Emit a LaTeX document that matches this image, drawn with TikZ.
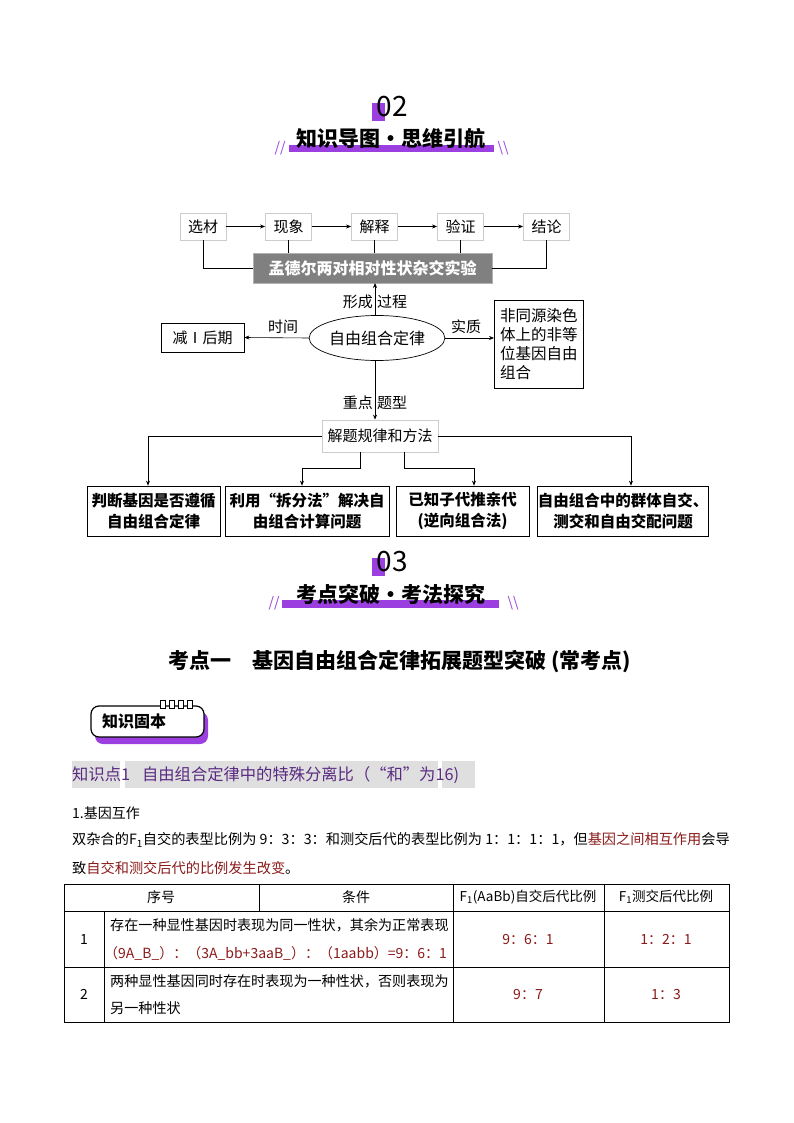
\documentclass[tikz,border=0pt]{standalone}
\usepackage{fontspec}
\setmainfont{Noto Sans CJK SC}
\usetikzlibrary{arrows.meta,shapes.geometric}
\definecolor{pur}{HTML}{9B3FE0}
\definecolor{dred}{HTML}{8B1A1A}
\definecolor{kpur}{HTML}{5A2A82}
\begin{document}
\begin{tikzpicture}[x=1pt,y=-1pt,
  fs/.style={font=\fontsize{#1}{#1}\selectfont},
  tbox/.style={draw=gray!40,line width=0.8pt,minimum width=46,minimum height=27,inner sep=0,fs=15},
  bbox/.style={draw,line width=0.7pt,inner sep=0,fs=15},
  qbox/.style={draw,line width=0.7pt,minimum height=50,inner sep=0,align=center,font=\bfseries\fontsize{15.5}{21}\selectfont},
  arr/.style={-{Stealth[length=5pt,width=4pt]},line width=0.6pt},
  ln/.style={line width=0.6pt}]
\useasboundingbox (0,0) rectangle (794,1123);
\fill[white] (0,0) rectangle (794,1123);
% section 02 header
\fill[pur] (372,103) rectangle (385,121);
\node[fs=28] (n02) at (392,107) {02};
\fill[pur] (289,145) rectangle (494,152);
\node[font=\bfseries\fontsize{21}{24}\selectfont] (h1) at (391,139) {知识导图·思维引航};
\node[pur,fs=14] (s1) at (280,148) {//};
\node[pur,fs=14] (s2) at (503,148) {\textbackslash\textbackslash};
% top row
\node[tbox] (a1) at (203,226.5) {选材};
\node[tbox] (a2) at (288.5,226.5) {现象};
\node[tbox] (a3) at (374.5,226.5) {解释};
\node[tbox] (a4) at (460.5,226.5) {验证};
\node[tbox] (a5) at (546.5,226.5) {结论};
\draw[arr] (a1) -- (a2); \draw[arr] (a2) -- (a3); \draw[arr] (a3) -- (a4); \draw[arr] (a4) -- (a5);
\node[fill=gray!75!black!80,draw=gray!60,text=white,minimum width=239,minimum height=30,inner sep=0,font=\bfseries\fontsize{16}{18}\selectfont] (bn) at (372.5,268) {孟德尔两对相对性状杂交实验};
\draw[ln] (a1.south) |- (bn.west);
\draw[ln] (a5.south) |- (bn.east);
\draw[ln] (a2.south) -- (a2.south |- bn.north);
\draw[ln] (a3.south) -- (a3.south |- bn.north);
\draw[ln] (a4.south) -- (a4.south |- bn.north);
% center ellipse
\node[ellipse,draw,line width=0.7pt,minimum width=119,minimum height=45,inner sep=0,fs=16] (el) at (377,338) {自由组合定律};
\coordinate (eltop) at (375,316);
\coordinate (bnbot) at (375,283);
\draw[arr] (eltop) -- (bnbot);
\node[fs=15,anchor=east,inner sep=1] (l1) at (374,302) {形成};
\node[fs=15,anchor=west,inner sep=1] (l2) at (376,302) {过程};
\node[bbox,minimum width=83,minimum height=29] (jq) at (202.5,337.5) {减Ⅰ后期};
\draw[arr] (el.west) -- (jq.east);
\node[fs=15] (l3) at (283,327) {时间};
\node[draw,line width=0.7pt,minimum width=89,minimum height=88,align=left,anchor=north west,inner xsep=4,inner ysep=3,font=\fontsize{15.5}{19}\selectfont] (rb) at (494,300) {非同源染色\\体上的非等\\位基因自由\\组合};
\draw[arr] (el.east) -- (rb.west |- el.east);
\node[fs=15] (l4) at (466,327) {实质};
% method box
\node[tbox,minimum width=116,minimum height=32] (mf) at (380,436) {解题规律和方法};
\coordinate (elbot) at (375,361);
\draw[arr] (elbot) -- (mf.north -| elbot);
\node[fs=15,anchor=east,inner sep=1] (l5) at (374,403) {重点};
\node[fs=15,anchor=west,inner sep=1] (l6) at (376,403) {题型};
% bottom boxes
\node[qbox,minimum width=133] (q1) at (153.5,511) {判断基因是否遵循\\自由组合定律};
\node[qbox,minimum width=164] (q2) at (307,511) {利用“拆分法”解决自\\由组合计算问题};
\node[qbox,minimum width=133] (q3) at (462.5,511) {已知子代推亲代\\(逆向组合法)};
\node[qbox,minimum width=170] (q4) at (623,511) {自由组合中的群体自交、\\测交和自由交配问题};
\draw[arr] (mf.west) -| (q1.north -| 148,0);
\draw[arr] (mf.east) -| (q4.north -| 631,0);
\draw[arr] (mf.south -| 360,0) |- (302,468) -- (q2.north -| 302,0);
\draw[arr] (mf.south -| 404,0) |- (474,468) -- (q3.north -| 474,0);
% section 03 header
\fill[pur] (372,558) rectangle (385,576);
\node[fs=28] (n03) at (392,562) {03};
\fill[pur] (282,600) rectangle (499,608);
\node[font=\bfseries\fontsize{21}{24}\selectfont] (h2) at (391,594) {考点突破·考法探究};
\node[pur,fs=14] (s3) at (274,603) {//};
\node[pur,fs=14] (s4) at (513,603) {\textbackslash\textbackslash};
\node[font=\bfseries\fontsize{21}{24}\selectfont] (tt) at (400,662) {考点一\quad 基因自由组合定律拓展题型突破 (常考点)};
% badge
\fill[pur,rounded corners=8] (95,712) rectangle (208,744);
\draw[line width=1.2pt,fill=white,rounded corners=8] (91,706) rectangle (204,737);
\foreach \i in {0,1,2,3} {\draw[line width=1pt,fill=white] (160+\i*9,700) rectangle (165+\i*9,708);}
\node[font=\bfseries\fontsize{16}{18}\selectfont] (bd) at (134,721) {知识固本};
% knowledge point line
\fill[gray!25] (72,761) rectangle (120,788);
\fill[gray!25] (125,761) rectangle (438,788);
\fill[gray!25] (442,761) rectangle (475,788);
\node[kpur,anchor=west,font=\fontsize{16.3}{17}\selectfont,inner sep=0] (kp) at (72,775) {知识点1\hspace{12pt}自由组合定律中的特殊分离比（“和”为16)};
% paragraph
\node[anchor=west,fs=14,inner sep=0] (p0) at (72,813) {1.基因互作};
\node[anchor=west,font=\fontsize{14.2}{15}\selectfont,inner sep=0] (p1) at (72,840) {双杂合的F\textsubscript{1}自交的表型比例为 9：3：3：和测交后代的表型比例为 1：1：1：1，但\textcolor{dred}{基因之间相互作用}会导};
\node[anchor=west,font=\fontsize{14.2}{15}\selectfont,inner sep=0] (p2) at (72,868) {致\textcolor{dred}{自交和测交后代的比例发生改变}。};
% table
\draw[line width=0.8pt] (64,884) rectangle (729,1022);
\draw[line width=0.6pt] (64,911) -- (729,911);
\draw[line width=0.6pt] (64,967) -- (729,967);
\draw[line width=0.6pt] (104,911) -- (104,1022);
\draw[line width=0.6pt] (259,884) -- (259,911);
\draw[line width=0.6pt] (453,884) -- (453,1022);
\draw[line width=0.6pt] (604,884) -- (604,1022);
\node[fs=14] (t1) at (161,897) {序号};
\node[fs=14] (t2) at (356,897) {条件};
\node[font=\fontsize{13.5}{14}\selectfont] (t3) at (528,897) {F\textsubscript{1}(AaBb)自交后代比例};
\node[font=\fontsize{13.5}{14}\selectfont] (t4) at (666,897) {F\textsubscript{1}测交后代比例};
\node[fs=14] (r1) at (84,939) {1};
\node[fs=14] (r2) at (84,994) {2};
\node[font=\fontsize{14.1}{15}\selectfont,anchor=west,inner sep=0] (c1a) at (110,925) {存在一种显性基因时表现为同一性状，其余为正常表现};
\node[font=\fontsize{14}{15}\selectfont,anchor=west,inner sep=0,dred] (c1b) at (104,953) {（9A\_B\_）：（3A\_bb+3aaB\_）：（1aabb）=9：6：1};
\node[font=\fontsize{14.1}{15}\selectfont,anchor=west,inner sep=0] (c2a) at (110,981) {两种显性基因同时存在时表现为一种性状，否则表现为};
\node[font=\fontsize{14.1}{15}\selectfont,anchor=west,inner sep=0] (c2b) at (110,1008) {另一种性状};
\node[fs=14,dred] (v1) at (528,939) {9：6：1};
\node[fs=14,dred] (v2) at (666,939) {1：2：1};
\node[fs=14,dred] (v3) at (528,994) {9：7};
\node[fs=14,dred] (v4) at (666,994) {1：3};
\end{tikzpicture}
\end{document}
